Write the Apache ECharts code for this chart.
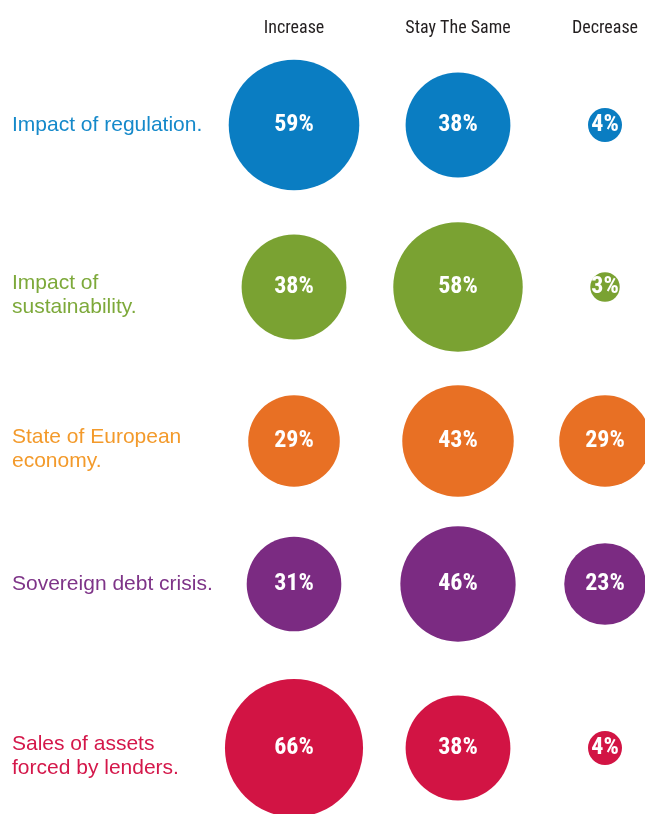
<!DOCTYPE html>
<html>
<head>
<meta charset="utf-8">
<script src="https://cdn.jsdelivr.net/npm/echarts@6/dist/echarts.min.js"></script>
<style>
html,body{margin:0;padding:0;background:#fff;}
#chart{width:645px;height:814px;}
</style>
</head>
<body>
<div id="chart"></div>
<script>
// ---- data ----
const rows = ['Impact of regulation.', 'Impact of\nsustainability.', 'State of European\neconomy.', 'Sovereign debt crisis.', 'Sales of assets\nforced by lenders.'];
const columns = ['Increase', 'Stay The Same', 'Decrease'];
const increase = [59, 38, 29, 31, 66];
const stayTheSame = [38, 58, 43, 46, 38];
const decrease = [4, 3, 29, 23, 4];

// ---- styling / layout ----
const values = [increase, stayTheSame, decrease];
const circleColors = ['#0A7DC2', '#7AA232', '#E87024', '#7B2B82', '#D21444'];
const labelColors = ['#1589CA', '#7DA93A', '#F39A2B', '#7E3488', '#D4174A'];
const colCenters = [294, 458, 605];
const rowCenters = [125, 287, 441, 584, 748];
const half = 30;
const condensed = '"Liberation Sans Narrow", "Roboto Condensed", Roboto, sans-serif';
const sans = '"Liberation Sans", Arial, Helvetica, sans-serif';

const grids = [], xAxes = [], yAxes = [], series = [];
rows.forEach((row, r) => {
  columns.forEach((col, c) => {
    const k = grids.length;
    grids.push({left: colCenters[c] - half, width: half * 2, top: rowCenters[r] - half, height: half * 2});
    xAxes.push({
      type: 'category', gridIndex: k, data: [col], position: 'top',
      axisLine: {show: false}, axisTick: {show: false}, splitLine: {show: false},
      axisLabel: r === 0 ? {margin: rowCenters[0] - half - 37, fontFamily: condensed, fontSize: 18, color: '#231F20'} : {show: false}
    });
    yAxes.push({
      type: 'category', gridIndex: k, data: [row],
      axisLine: {show: false}, axisTick: {show: false}, splitLine: {show: false},
      axisLabel: c === 0 ? {
        show: true, align: 'left', margin: colCenters[0] - half - 12,
        fontFamily: sans, fontSize: 21, lineHeight: 24,
        color: labelColors[r],
        formatter: v => v.indexOf('\n') >= 0 ? '{pad| }\n' + v : v,
        rich: {pad: {fontSize: 1, lineHeight: 16}}
      } : {show: false}
    });
    series.push({
      type: 'scatter', xAxisIndex: k, yAxisIndex: k, clip: false,
      data: [[col, row, values[c][r]]],
      symbol: 'circle',
      symbolSize: d => 17 * Math.sqrt(d[2]),
      itemStyle: {color: circleColors[r], opacity: 1},
      label: {
        show: true, position: 'inside', formatter: p => p.value[2] + '%',
        color: '#fff', fontFamily: condensed, fontWeight: 'bold', fontSize: 24
      },
      emphasis: {disabled: true}
    });
  });
});

const chart = echarts.init(document.getElementById('chart'), null, {renderer: 'canvas'});
chart.setOption({
  animation: false,
  backgroundColor: '#fff',
  grid: grids, xAxis: xAxes, yAxis: yAxes, series: series
});
</script>
</body>
</html>
